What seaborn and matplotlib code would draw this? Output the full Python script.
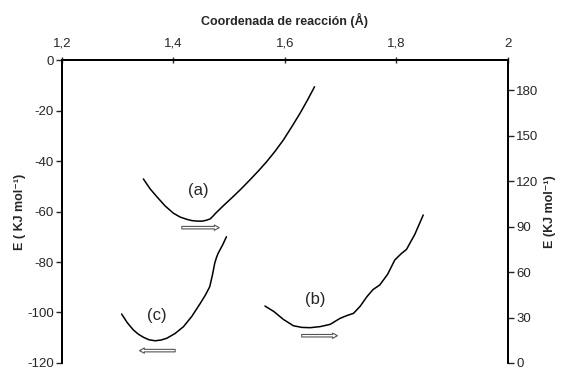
import matplotlib
matplotlib.use("Agg")
import matplotlib.pyplot as plt
import seaborn as sns
import numpy as np

sns.set_style("white")
plt.rcParams["font.family"] = ["Liberation Sans", "DejaVu Sans"]
plt.rcParams["font.size"] = 9.5
plt.rcParams["axes.unicode_minus"] = False

# curve (a), left axis
a_x = [1.346, 1.358, 1.370, 1.385, 1.400, 1.412, 1.424, 1.433, 1.442, 1.452, 1.460, 1.466,
       1.471, 1.476, 1.490, 1.507, 1.522, 1.537, 1.552, 1.567, 1.582, 1.597, 1.612, 1.627,
       1.640, 1.653]
a_y = [-47.1, -51.0, -54.1, -57.8, -60.7, -62.2, -63.1, -63.6, -63.8, -63.8, -63.4, -62.9,
       -61.8, -60.6, -57.6, -54.1, -50.9, -47.5, -44.0, -40.3, -36.2, -31.7, -26.5, -21.1,
       -16.0, -10.6]

# curve (c), left axis
c_x = [1.307, 1.317, 1.328, 1.337, 1.346, 1.356, 1.367, 1.378, 1.388, 1.403, 1.418, 1.433,
       1.448, 1.457, 1.465, 1.470, 1.474, 1.477, 1.480, 1.488, 1.495]
c_y = [-100.6, -104.0, -106.9, -108.6, -109.8, -110.8, -111.2, -110.9, -110.2, -108.3,
       -105.6, -101.5, -96.4, -93.2, -89.8, -85.0, -80.5, -78.3, -76.6, -73.3, -70.0]

# curve (b), right axis
b_x = [1.564, 1.580, 1.597, 1.615, 1.630, 1.645, 1.663, 1.681, 1.690, 1.699, 1.711, 1.723,
       1.735, 1.747, 1.758, 1.770, 1.784, 1.797, 1.808, 1.818, 1.833, 1.848]
b_y = [37.6, 34.0, 28.8, 24.6, 23.5, 23.3, 24.0, 25.5, 27.5, 29.5, 31.3, 32.8, 37.5, 43.8,
       48.5, 51.5, 58.5, 68.0, 72.0, 75.0, 85.0, 97.7]

x_ticks = [1.2, 1.4, 1.6, 1.8, 2.0]
x_labels = ["1,2", "1,4", "1,6", "1,8", "2"]
left_ticks = [0, -20, -40, -60, -80, -100, -120]
right_ticks = [0, 30, 60, 90, 120, 150, 180]

fig = plt.figure(figsize=(5.66, 3.69), dpi=100)
ax = fig.add_axes([0.1095, 0.0163, 0.788, 0.821])
ax2 = ax.twinx()

sns.lineplot(x=a_x, y=a_y, ax=ax, color="black", lw=1.1, sort=False)
sns.lineplot(x=c_x, y=c_y, ax=ax, color="black", lw=1.1, sort=False)
sns.lineplot(x=b_x, y=b_y, ax=ax2, color="black", lw=1.1, sort=False)

ax.set_xlim(1.2, 2.0)
ax.set_ylim(-120, 0)
ax2.set_ylim(0, 200)

ax.xaxis.tick_top()
ax.xaxis.set_label_position("top")
ax.set_xticks(x_ticks)
ax.set_xticklabels(x_labels)
ax.set_yticks(left_ticks)
ax2.set_yticks(right_ticks)

for a in (ax, ax2):
    a.spines["bottom"].set_visible(False)
    for s in ("top", "left", "right"):
        a.spines[s].set_linewidth(1.3)
        a.spines[s].set_color("black")
    a.grid(False)

ax.tick_params(axis="x", direction="inout", length=5, width=1, pad=5, labelsize=9.5)
ax.tick_params(axis="y", direction="out", length=4, width=1, pad=2, labelsize=9.5, left=True)
ax2.tick_params(axis="y", direction="out", length=4, width=1, pad=2, labelsize=9.5, right=True)

ax.set_xlabel("Coordenada de reacción (Å)", fontweight="bold", fontsize=9, labelpad=9)
ax.set_ylabel("E ( KJ mol⁻¹)", fontweight="bold", fontsize=9, labelpad=1)
ax2.set_ylabel("E (KJ mol⁻¹)", fontweight="bold", fontsize=9, labelpad=4)

ax.text(1.444, -51.5, "(a)", fontsize=12, ha="center", va="center")
ax.text(1.370, -101, "(c)", fontsize=12, ha="center", va="center")
ax2.text(1.654, 41.6, "(b)", fontsize=12, ha="center", va="center")

arrow = dict(arrowstyle="simple,head_length=0.35,head_width=0.38,tail_width=0.18",
             fc="white", ec="#555555", lw=0.8, shrinkA=0, shrinkB=0, mutation_scale=10)
ax.annotate("", xy=(1.482, -66.4), xytext=(1.415, -66.4), arrowprops=arrow)
ax.annotate("", xy=(1.339, -115.1), xytext=(1.403, -115.1), arrowprops=arrow)
ax2.annotate("", xy=(1.694, 18.0), xytext=(1.630, 18.0), arrowprops=arrow)

fig.savefig("out.png", dpi=100)
